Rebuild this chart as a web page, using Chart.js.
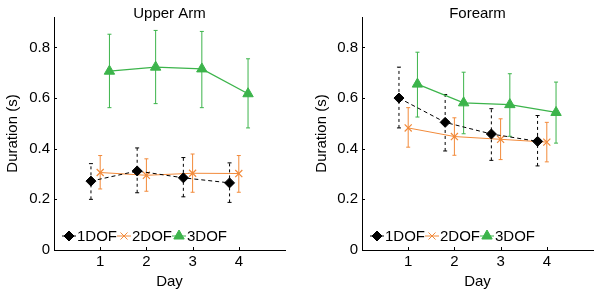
<!DOCTYPE html>
<html>
<head>
<title>Duration by Day</title>
<style>
  body { margin: 0; padding: 0; background: #fff; }
  .panel { position: absolute; top: 0; }
</style>
<script src="https://cdn.jsdelivr.net/npm/chart.js"></script>
</head>
<body>
<div class="panel" style="left:0px"><canvas id="upperChart" width="300" height="297"></canvas></div>
<div class="panel" style="left:300px"><canvas id="foreChart" width="302" height="297"></canvas></div>
<script>
// data
const days = [1, 2, 3, 4];
const seriesNames = ['1DOF', '2DOF', '3DOF'];
const dayShift = [-0.2, 0, 0.2];   // groups are offset a little on the day axis
const yTicks = [0, 0.2, 0.4, 0.6, 0.8];

// Upper Arm
const upperMean1 = [0.272, 0.312, 0.285, 0.265];
const upperLow1  = [0.200, 0.226, 0.210, 0.188];
const upperHigh1 = [0.341, 0.403, 0.365, 0.344];
const upperMean2 = [0.306, 0.295, 0.303, 0.302];
const upperLow2  = [0.241, 0.232, 0.228, 0.228];
const upperHigh2 = [0.373, 0.360, 0.379, 0.373];
const upperMean3 = [0.706, 0.722, 0.715, 0.617];
const upperLow3  = [0.562, 0.578, 0.562, 0.482];
const upperHigh3 = [0.852, 0.867, 0.863, 0.755];

// Forearm
const foreMean1 = [0.600, 0.504, 0.458, 0.429];
const foreLow1  = [0.482, 0.391, 0.354, 0.332];
const foreHigh1 = [0.722, 0.614, 0.558, 0.531];
const foreMean2 = [0.482, 0.448, 0.437, 0.426];
const foreLow2  = [0.406, 0.374, 0.357, 0.348];
const foreHigh2 = [0.562, 0.522, 0.518, 0.504];
const foreMean3 = [0.655, 0.581, 0.574, 0.543];
const foreLow3  = [0.525, 0.459, 0.449, 0.422];
const foreHigh3 = [0.781, 0.702, 0.696, 0.663];

const colors = ['#000000', '#f28a3a', '#3cb44b'];
const styles = ['rectRot', 'crossRot', 'triangle'];
const radii = [5, 5, 6];

Chart.defaults.font.family = "'Liberation Sans', Arial, Helvetica, sans-serif";
Chart.defaults.color = '#000';

// error bars, drawn under the markers
const errorBars = {
  id: 'errorBars',
  beforeDatasetsDraw(chart) {
    const ctx = chart.ctx;
    const ys = chart.scales.y;
    chart.data.datasets.forEach((ds, i) => {
      const meta = chart.getDatasetMeta(i);
      ctx.save();
      ctx.strokeStyle = ds.borderColor;
      ctx.lineWidth = 1;
      meta.data.forEach((pt, j) => {
        const x = pt.x;
        const yl = ys.getPixelForValue(ds.errLow[j]);
        const yh = ys.getPixelForValue(ds.errHigh[j]);
        ctx.setLineDash(ds.errDash);
        ctx.beginPath();
        ctx.moveTo(x, yl); ctx.lineTo(x, yh);
        ctx.stroke();
        ctx.setLineDash([]);
        ctx.beginPath();
        ctx.moveTo(x - 2, yl); ctx.lineTo(x + 2, yl);
        ctx.moveTo(x - 2, yh); ctx.lineTo(x + 2, yh);
        ctx.stroke();
      });
      ctx.restore();
    });
  }
};

// inward ticks, title and the legend inside the axes
const decorations = {
  id: 'decorations',
  afterDraw(chart, args, opts) {
    const ctx = chart.ctx;
    const a = chart.chartArea;
    const xs = chart.scales.x, ys = chart.scales.y;
    ctx.save();
    ctx.strokeStyle = '#000';
    ctx.lineWidth = 1;
    ctx.beginPath();
    days.forEach(d => {
      const x = Math.round(xs.getPixelForValue(d)) + 0.5;
      ctx.moveTo(x, a.bottom); ctx.lineTo(x, a.bottom - 3);
    });
    yTicks.forEach(v => {
      const y = Math.round(ys.getPixelForValue(v)) + 0.5;
      ctx.moveTo(a.left, y); ctx.lineTo(a.left + 3, y);
    });
    ctx.stroke();

    ctx.fillStyle = '#000';
    ctx.font = "15px 'Liberation Sans', Arial, sans-serif";
    ctx.textAlign = 'center';
    ctx.textBaseline = 'middle';
    ctx.fillText(opts.title, (a.left + a.right) / 2, 14);

    // legend
    let x = a.left + 8;
    const y = 236;
    ctx.textAlign = 'left';
    chart.data.datasets.forEach(ds => {
      ctx.strokeStyle = ds.borderColor;
      ctx.fillStyle = ds.borderColor;
      ctx.lineWidth = 1;
      ctx.beginPath();
      ctx.moveTo(x, y); ctx.lineTo(x + 14, y);
      ctx.stroke();
      Chart.helpers.drawPoint(ctx, {
        pointStyle: ds.pointStyle, radius: ds.pointRadius,
        rotation: 0, borderWidth: ds.pointBorderWidth
      }, x + 7, y);
      ctx.fillStyle = '#000';
      ctx.fillText(ds.label, x + 15, y + 1);
      x += 15 + ctx.measureText(ds.label).width;
    });
    ctx.restore();
  }
};

function makeChart(id, title, means, lows, highs, yWidth, rightPad, yTitlePad) {
  const datasets = seriesNames.map((name, i) => ({
    label: name,
    data: days.map((d, j) => ({ x: d + dayShift[i], y: means[i][j] })),
    errLow: lows[i],
    errHigh: highs[i],
    errDash: i === 0 ? [3, 3] : [],
    borderColor: colors[i],
    backgroundColor: colors[i],
    borderWidth: i === 2 ? 1.3 : 1,
    borderDash: i === 0 ? [4, 3] : [],
    pointStyle: styles[i],
    pointRadius: radii[i],
    pointBorderWidth: i === 1 ? 1.2 : 1,
    pointBackgroundColor: colors[i],
    pointBorderColor: colors[i],
    tension: 0
  }));
  return new Chart(document.getElementById(id), {
    type: 'line',
    data: { datasets },
    options: {
      responsive: false,
      animation: false,
      devicePixelRatio: 1,
      layout: { padding: { left: 0, right: rightPad, top: 17, bottom: 0 } },
      plugins: {
        legend: { display: false },
        tooltip: { enabled: false },
        decorations: { title: title }
      },
      scales: {
        x: {
          type: 'linear', min: 0, max: 5,
          afterBuildTicks: s => { s.ticks = days.map(v => ({ value: v })); },
          afterFit: s => { s.height = 47; },
          ticks: { font: { size: 15 }, color: '#000', padding: 3, autoSkip: false, maxRotation: 0 },
          grid: { drawOnChartArea: false, drawTicks: false },
          border: { display: true, color: '#000', width: 1 },
          title: { display: true, text: 'Day', font: { size: 15 }, color: '#000', padding: { top: 0, bottom: 6 } }
        },
        y: {
          type: 'linear', min: 0, max: 0.92,
          afterBuildTicks: s => { s.ticks = yTicks.map(v => ({ value: v })); },
          afterFit: s => { s.width = yWidth; },
          ticks: {
            font: { size: 15 }, color: '#000', padding: 4,
            callback: v => (v === 0 ? '0' : v.toFixed(1))
          },
          grid: { drawOnChartArea: false, drawTicks: false },
          border: { display: true, color: '#000', width: 1 },
          title: { display: true, text: 'Duration (s)', font: { size: 15 }, color: '#000', padding: { top: yTitlePad, bottom: 0 } }
        }
      }
    },
    plugins: [errorBars, decorations]
  });
}

makeChart('upperChart', 'Upper Arm',
  [upperMean1, upperMean2, upperMean3],
  [upperLow1, upperLow2, upperLow3],
  [upperHigh1, upperHigh2, upperHigh3],
  54, 15, 4);

makeChart('foreChart', 'Forearm',
  [foreMean1, foreMean2, foreMean3],
  [foreLow1, foreLow2, foreLow3],
  [foreHigh1, foreHigh2, foreHigh3],
  62, 9, 13);
</script>
</body>
</html>
